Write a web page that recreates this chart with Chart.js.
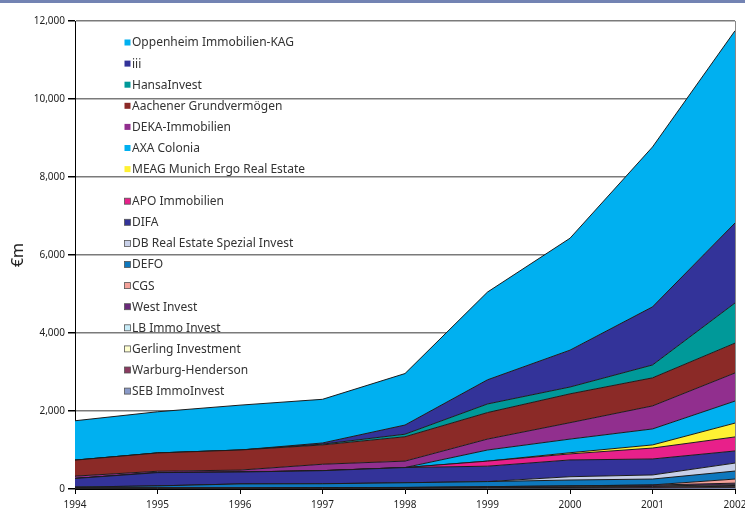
<!DOCTYPE html>
<html>
<head>
<meta charset="utf-8">
<title>Open-ended property funds, €m</title>
<script src="https://cdn.jsdelivr.net/npm/chart.js@4.4.0/dist/chart.umd.min.js"></script>
<style>
    html, body { margin: 0; padding: 0; background: #fff; }
    #wrap { position: absolute; left: 0; top: 0; width: 745px; height: 510px; }
    #topbar { position: absolute; left: 0; top: 0; width: 745px; height: 3px; background: #7383b3; }
</style>
</head>
<body>
<div id="wrap"><canvas id="chart" width="745" height="510"></canvas></div>
<div id="topbar"></div>
<script>
// years on the x axis
var years = ['1994', '1995', '1996', '1997', '1998', '1999', '2000', '2001', '2002'];

// fund volumes in €m, stacked from the bottom up
var seb        = [15, 15, 15, 15, 15, 20, 20, 25, 35];
var warburg    = [0, 0, 0, 5, 10, 15, 20, 25, 35];
var gerling    = [0, 0, 0, 0, 0, 5, 10, 15, 20];
var lbImmo     = [0, 0, 0, 0, 0, 0, 5, 10, 20];
var westInvest = [15, 15, 15, 15, 15, 20, 25, 25, 40];
var cgs        = [0, 0, 0, 0, 0, 0, 0, 5, 105];
var defo       = [20, 50, 100, 100, 120, 130, 150, 150, 205];
var dbReal     = [0, 0, 0, 0, 0, 0, 85, 105, 205];
var difa       = [220, 340, 305, 335, 390, 395, 430, 410, 310];
var apo        = [0, 0, 0, 0, 0, 130, 155, 280, 360];
var meag       = [0, 0, 0, 0, 0, 0, 30, 80, 355];
var axa        = [0, 0, 0, 0, 0, 285, 350, 410, 565];
var deka       = [60, 35, 50, 165, 165, 280, 420, 590, 720];
var aachener   = [410, 470, 515, 495, 625, 680, 740, 720, 765];
var hansa      = [0, 0, 0, 20, 65, 220, 175, 330, 1030];
var iii        = [0, 0, 0, 30, 235, 620, 945, 1490, 2050];
var oppenheim  = [1010, 1055, 1150, 1120, 1320, 2250, 2870, 4100, 4930];

var yTicks = [0, 2000, 4000, 6000, 8000, 10000, 12000];

var series = [
    { label: 'SEB ImmoInvest', data: seb, color: '#8a9ac8' },
    { label: 'Warburg-Henderson', data: warburg, color: '#8a3a60' },
    { label: 'Gerling Investment', data: gerling, color: '#ffffd0' },
    { label: 'LB Immo Invest', data: lbImmo, color: '#c8ecf8' },
    { label: 'West Invest', data: westInvest, color: '#6a2a7a' },
    { label: 'CGS', data: cgs, color: '#f4a29a' },
    { label: 'DEFO', data: defo, color: '#0e78be' },
    { label: 'DB Real Estate Spezial Invest', data: dbReal, color: '#c8d0e8' },
    { label: 'DIFA', data: difa, color: '#333399' },
    { label: 'APO Immobilien', data: apo, color: '#e8208a' },
    { label: 'MEAG Munich Ergo Real Estate', data: meag, color: '#fff133' },
    { label: 'AXA Colonia', data: axa, color: '#00b0f0' },
    { label: 'DEKA-Immobilien', data: deka, color: '#912f8e' },
    { label: 'Aachener Grundvermögen', data: aachener, color: '#8b2a27' },
    { label: 'HansaInvest', data: hansa, color: '#009999' },
    { label: 'iii', data: iii, color: '#333399' },
    { label: 'Oppenheim Immobilien-KAG', data: oppenheim, color: '#00b0f0' }
];

// legend drawn inside the plot, top entry = top layer
var insideLegend = {
    id: 'insideLegend',
    afterDraw: function (chart) {
        var ctx = chart.ctx;
        var sets = chart.data.datasets.slice().reverse();
        ctx.save();
        ctx.font = '12px "Noto Sans"';
        ctx.textBaseline = 'middle';
        ctx.textAlign = 'left';
        sets.forEach(function (ds, i) {
            var y = 43 + i * 21.1 + (i >= 7 ? 11 : 0);
            ctx.fillStyle = ds.backgroundColor;
            ctx.fillRect(124.5, y - 3.5, 6, 6);
            if (i >= 7) {
                ctx.strokeStyle = '#555';
                ctx.lineWidth = 0.8;
                ctx.strokeRect(124.5, y - 3.5, 6, 6);
            }
            ctx.fillStyle = '#333';
            ctx.fillText(ds.label, 132, y);
        });
        ctx.restore();
    }
};

function init() {
    var datasets = series.map(function (s, i) {
        return {
            label: s.label,
            data: s.data,
            backgroundColor: s.color,
            borderColor: '#1c1c1c',
            borderWidth: 1,
            pointRadius: 0,
            tension: 0,
            fill: i === 0 ? 'origin' : '-1'
        };
    });

    new Chart(document.getElementById('chart'), {
        type: 'line',
        data: { labels: years, datasets: datasets },
        plugins: [insideLegend],
        options: {
            responsive: false,
            animation: false,
            locale: 'en-US',
            layout: { padding: { top: 21, right: 10, left: 0, bottom: 0 } },
            plugins: { legend: { display: false }, tooltip: { enabled: false } },
            scales: {
                x: {
                    grid: {
                        color: function (c) { return c.index === years.length - 1 ? '#888' : 'rgba(0,0,0,0)'; },
                        tickColor: '#000',
                        tickLength: 5,
                        drawOnChartArea: true
                    },
                    border: { color: '#000', width: 1 },
                    ticks: { color: '#222', font: { family: 'Noto Sans', size: 10 }, padding: 5, maxRotation: 0 },
                    afterFit: function (scale) {
                        scale.height = 21;
                        scale.paddingLeft = 0;
                        scale.paddingRight = 0;
                    }
                },
                y: {
                    stacked: true,
                    min: 0,
                    max: 12000,
                    afterBuildTicks: function (scale) {
                        scale.ticks = yTicks.map(function (v) { return { value: v }; });
                    },
                    grid: { color: '#7a7a7a', lineWidth: 1.5, tickColor: '#000', tickLength: 7 },
                    border: { color: '#000', width: 1 },
                    ticks: { color: '#222', font: { family: 'Noto Sans', size: 10 }, padding: 3 },
                    title: {
                        display: true,
                        text: '€m',
                        color: '#222',
                        font: { family: 'Noto Sans', size: 16 },
                        padding: { top: 9, bottom: 0 }
                    },
                    afterFit: function (scale) {
                        scale.width = 75;
                    }
                }
            }
        }
    });
}

init();
</script>
</body>
</html>
